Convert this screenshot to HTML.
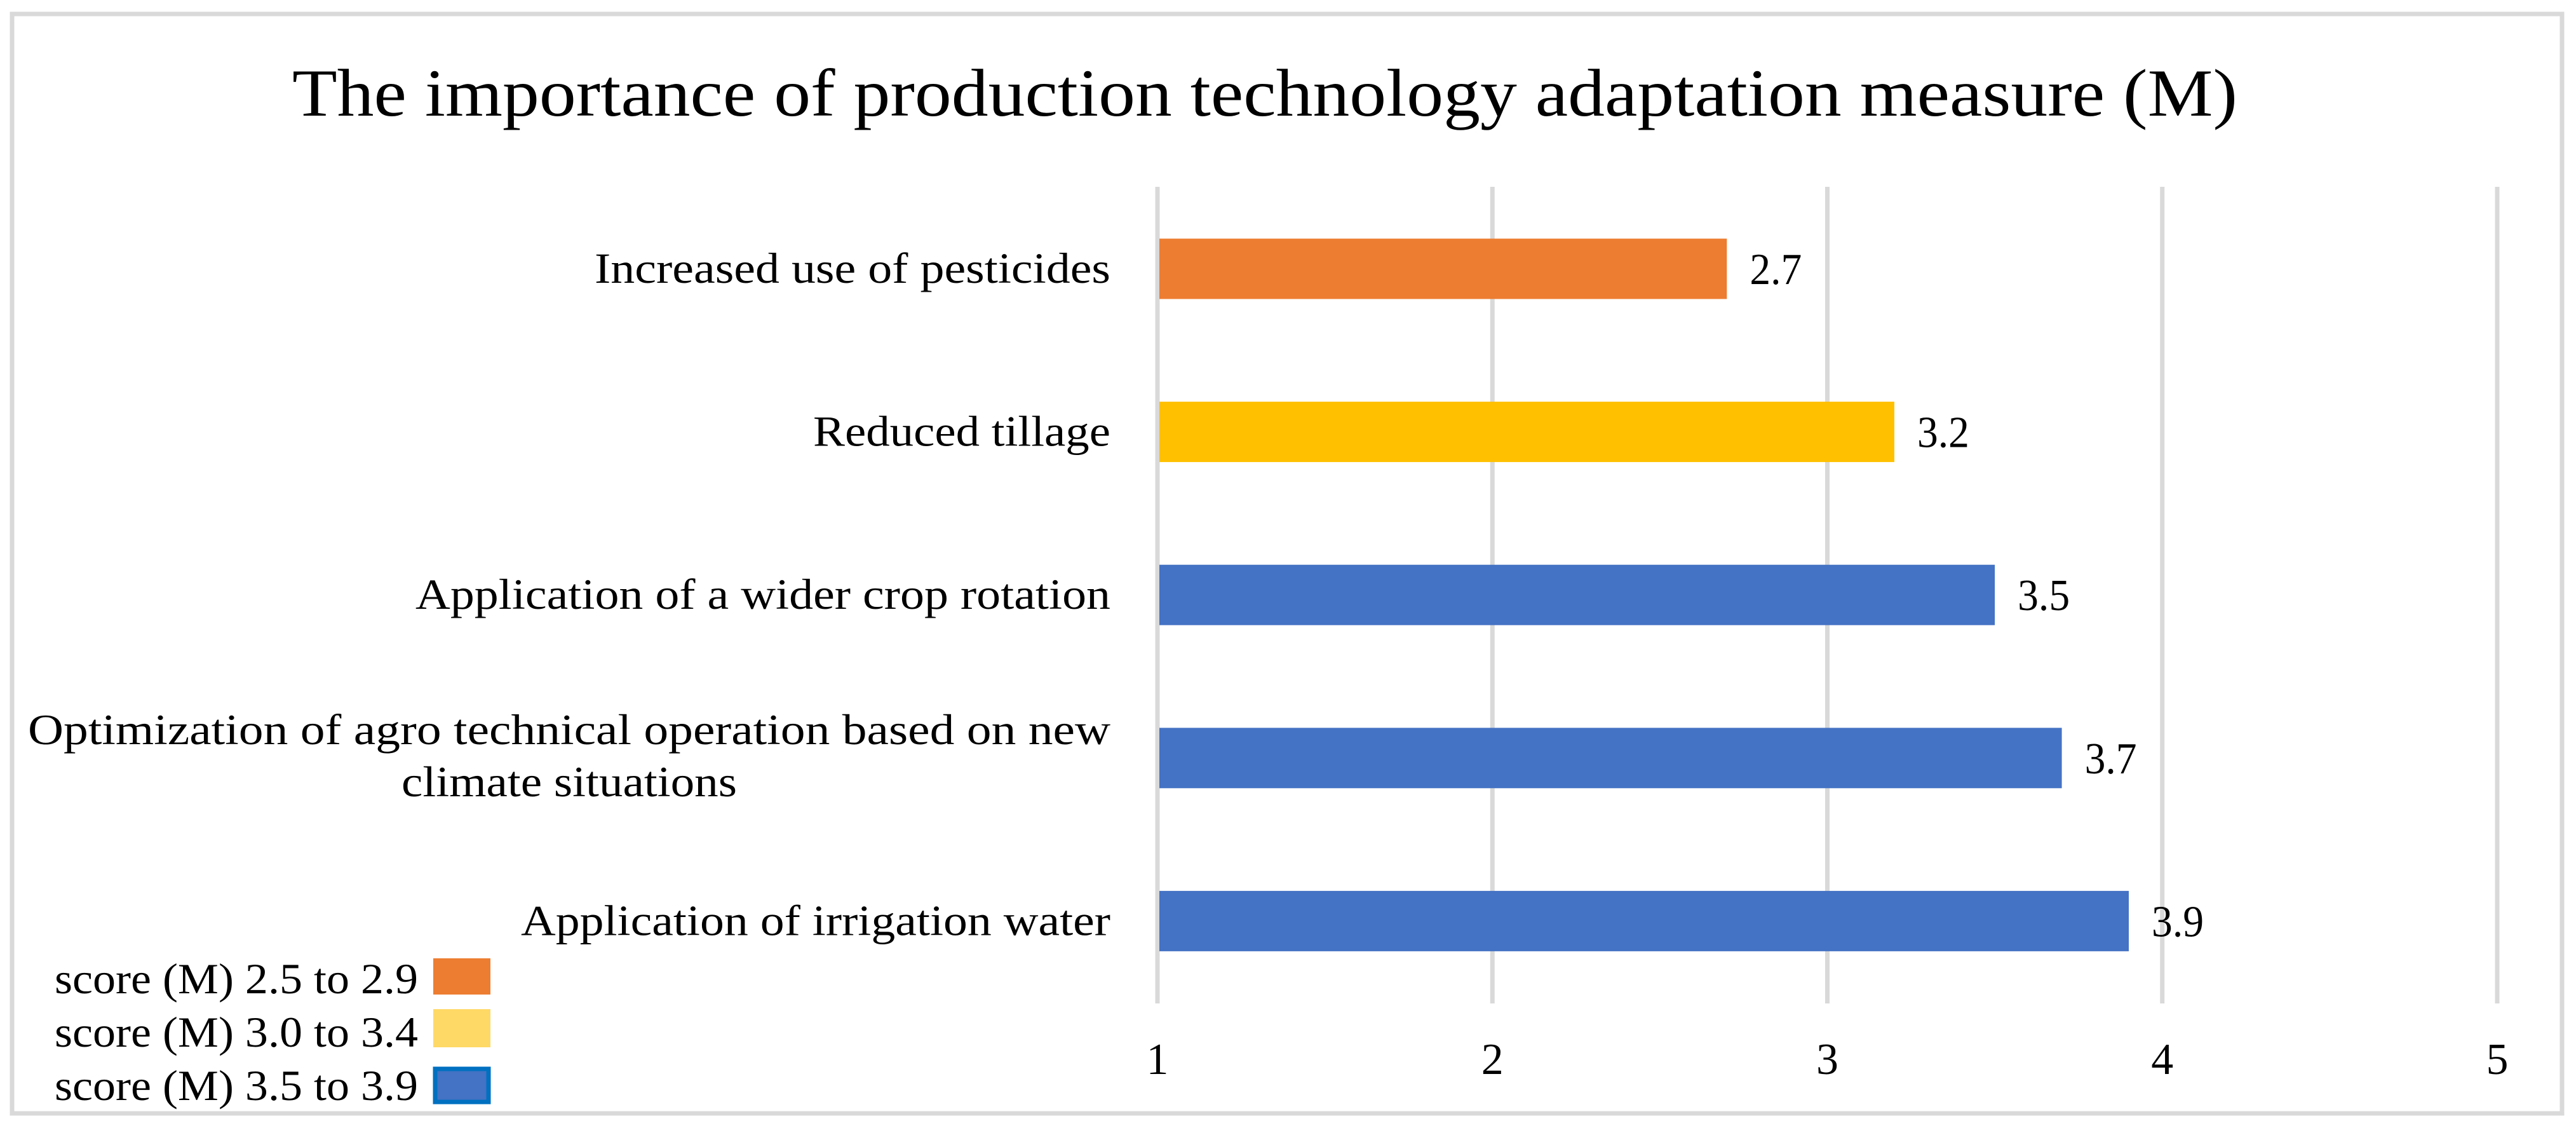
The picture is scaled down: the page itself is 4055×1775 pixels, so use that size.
<!DOCTYPE html>
<html><head><meta charset="utf-8"><style>
html,body{margin:0;padding:0;background:#fff;}
svg{display:block;font-family:"Liberation Serif",serif;}
</style></head><body>
<svg id="chart" width="4055" height="1775" viewBox="0 0 4055 1775" xmlns="http://www.w3.org/2000/svg">
<rect x="19" y="22" width="4014" height="1730" fill="#fff" stroke="#d9d9d9" stroke-width="7"/>
<text x="460" y="182" font-size="106" textLength="3062" lengthAdjust="spacingAndGlyphs" fill="#000">The importance of production technology adaptation measure (M)</text>
<g id="grid"></g><g id="bars"></g><g id="labels"></g>
<g>
<text x="86" y="1563" font-size="68" textLength="572" lengthAdjust="spacingAndGlyphs">score (M) 2.5 to 2.9</text>
<rect x="682" y="1508" width="90" height="57" fill="#ed7d31"/>
<text x="86" y="1647" font-size="68" textLength="572" lengthAdjust="spacingAndGlyphs">score (M) 3.0 to 3.4</text>
<rect x="682" y="1588" width="90" height="60" fill="#ffd966"/>
<text x="86" y="1731" font-size="68" textLength="572" lengthAdjust="spacingAndGlyphs">score (M) 3.5 to 3.9</text>
<rect x="685" y="1682" width="84" height="52" fill="#4472c4" stroke="#0070c0" stroke-width="7"/>
</g>
</svg>
<script>
const categories = ["Increased use of pesticides","Reduced tillage","Application of a wider crop rotation","Optimization of agro technical operation based on new climate situations","Application of irrigation water"];
const values = [2.7, 3.2, 3.5, 3.7, 3.9];
const barColors = ["#ed7d31","#ffc000","#4472c4","#4472c4","#4472c4"];
const xTicks = [1, 2, 3, 4, 5];
const valueLabels = ["2.7","3.2","3.5","3.7","3.9"];

const NS = "http://www.w3.org/2000/svg";
const X0 = 1822, X1 = 3931, XMIN = 1, XMAX = 5;
function xScale(v){ return X0 + (v - XMIN) / (XMAX - XMIN) * (X1 - X0); }
const Y_TOP = 294, Y_BOT = 1579, BAND = 256.6, FIRST_C = 423;
function yCenter(i){ return FIRST_C + i * BAND; }
const BAR_H = 95;
const labelWidths = [812, 468, 1094, 0, 928];

function mk(tag, attrs, parent){
  const e = document.createElementNS(NS, tag);
  for (const k in attrs) e.setAttribute(k, attrs[k]);
  parent.appendChild(e);
  return e;
}
const grid = document.getElementById('grid');
const bars = document.getElementById('bars');
const labels = document.getElementById('labels');

xTicks.forEach(function(t){
  const l = mk('line', {x1: xScale(t), x2: xScale(t), y1: Y_TOP, y2: Y_BOT, stroke: '#d9d9d9', 'stroke-width': 7}, grid);
  
  
  const tx = mk('text', {x: xScale(t), y: 1690, 'font-size': 70, 'text-anchor': 'middle'}, grid);
  tx.textContent = String(t);
  
  
});

values.forEach(function(v, i){
  const c = yCenter(i);
  const r = mk('rect', {x: xScale(XMIN) + 3, y: c - BAR_H / 2, width: xScale(v) - xScale(XMIN) - 3, height: BAR_H, fill: barColors[i]}, bars);
  
  
  const vl = mk('text', {x: xScale(v) + 36, y: c + 24, 'font-size': 70, textLength: 82, lengthAdjust: 'spacingAndGlyphs'}, bars);
  vl.textContent = valueLabels[i];
  
  

  if (i === 3) {
    const a = mk('text', {x: 1748, y: c - 22, 'font-size': 68, 'text-anchor': 'end', textLength: 1704, lengthAdjust: 'spacingAndGlyphs'}, labels);
    a.textContent = "Optimization of agro technical operation based on new";
    
    
    const b = mk('text', {x: 896, y: c + 60, 'font-size': 68, 'text-anchor': 'middle', textLength: 528, lengthAdjust: 'spacingAndGlyphs'}, labels);
    b.textContent = "climate situations";
    
    
  } else {
    const t = mk('text', {x: 1748, y: c + 22, 'font-size': 68, 'text-anchor': 'end', textLength: labelWidths[i], lengthAdjust: 'spacingAndGlyphs'}, labels);
    t.textContent = categories[i];
    
    
  }
});
</script>
</body></html>
